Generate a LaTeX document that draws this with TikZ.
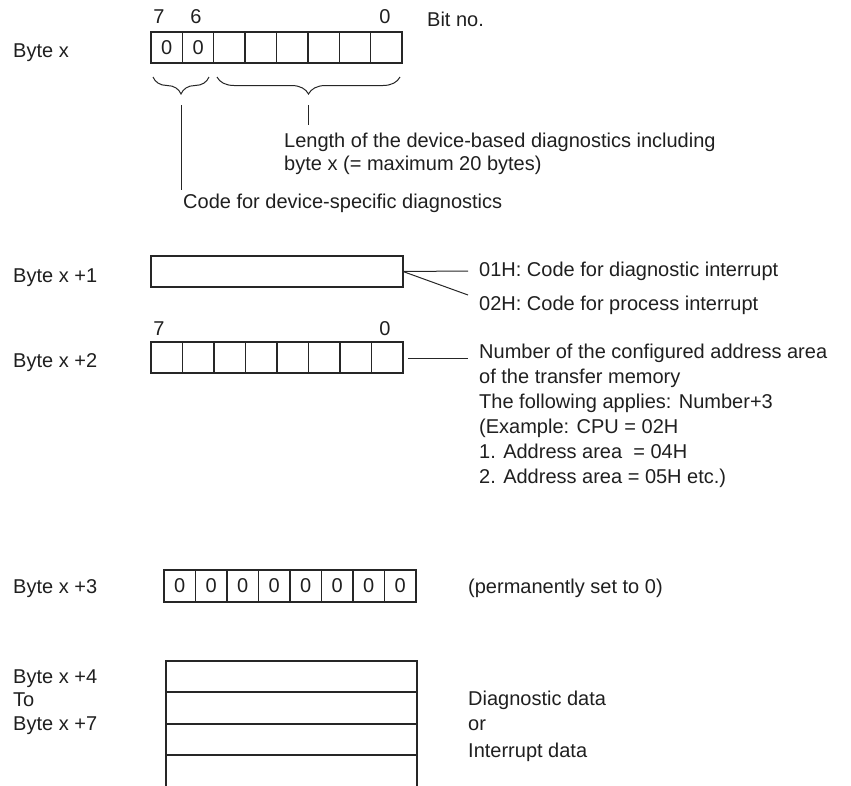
\documentclass[tikz,border=0pt]{standalone}
\usepackage{fontspec}
\setmainfont{Liberation Sans}
\usetikzlibrary{decorations.pathreplacing}
\begin{document}
\begin{tikzpicture}[x=1pt,y=-1pt,
  txt/.style={anchor=base west,inner sep=0pt,font=\fontsize{20}{25}\selectfont,text=black!88},
  bitno/.style={anchor=base,inner sep=0pt,font=\fontsize{20}{25}\selectfont,text=black!88},
  cell/.style={draw=black!85,line width=1.3pt,minimum width=31.4pt,minimum height=31pt,inner sep=0pt,outer sep=0pt,font=\fontsize{20}{25}\selectfont,text=black!88},
  bar/.style={draw=black!85,line width=1.3pt,inner sep=0pt,outer sep=0pt},
  conn/.style={draw=black!85,line width=1pt},
  brc/.style={draw=black!85,line width=1pt,decorate,decoration={brace,mirror,amplitude=17pt}}]
\useasboundingbox (0,0) rectangle (851,785);

% ---------- Byte x ----------
\node[bitno] (b7) at (159,23) {7};
\node[bitno] (b6) at (196,23) {6};
\node[bitno] (b0) at (385,23) {0};
\node[txt] (bitno) at (427,26) {Bit no.};
\node[txt] (lx) at (13,57) {Byte x};
\foreach \i/\t in {0/0,1/0,2/,3/,4/,5/,6/,7/} {
  \node[cell,minimum width=31.375pt] (a\i) at ({151+31.375*(\i+0.5)},47.5) {\t};
}
\coordinate (br1a) at (153,77);
\coordinate (br1b) at (209,77);
\coordinate (br2a) at (217,77);
\coordinate (br2b) at (400,77);
\draw[brc] (br1a) -- (br1b);
\draw[brc] (br2a) -- (br2b);
\coordinate (t1a) at (181,105);
\coordinate (t1b) at (181,190);
\coordinate (t2a) at (308,105);
\coordinate (t2b) at (308,125);
\draw[conn] (t1a) -- (t1b);
\draw[conn] (t2a) -- (t2b);
\node[txt] (len1) at (284,147) {Length of the device-based diagnostics including};
\node[txt] (len2) at (284,170) {byte x (= maximum 20 bytes)};
\node[txt] (code) at (183,208) {Code for device-specific diagnostics};

% ---------- Byte x+1 ----------
\node[txt] (lx1) at (13,282) {Byte x +1};
\node[bar,minimum width=252pt,minimum height=31pt] (bx1) at (277,271.5) {};
\coordinate (c1) at (468,271);
\coordinate (c2) at (468,295);
\draw[conn] (bx1.east) -- (c1);
\draw[conn] (bx1.east) -- (c2);
\node[txt] (i01) at (479,276) {01H: Code for diagnostic interrupt};
\node[txt] (i02) at (479,310) {02H: Code for process interrupt};

% ---------- Byte x+2 ----------
\node[bitno] (c7) at (159,335) {7};
\node[bitno] (c0) at (385,335) {0};
\node[txt] (lx2) at (13,367) {Byte x +2};
\foreach \i in {0,...,7} {
  \node[cell,minimum width=31.5pt] (b\i) at ({151+31.5*(\i+0.5)},357.5) {};
}
\coordinate (d0) at (408,358);
\coordinate (d1) at (468,358);
\draw[conn] (d0) -- (d1);
\node[txt] (n1) at (479,358) {Number of the configured address area};
\node[txt] (n2) at (479,383) {of the transfer memory};
\node[txt] (n3) at (479,408) {The following applies: Number+3};
\node[txt] (n4) at (479,433) {(Example: CPU = 02H};
\node[txt] (n5) at (479,458) {1. Address area~ = 04H};
\node[txt] (n6) at (479,483) {2. Address area = 05H etc.)};

% ---------- Byte x+3 ----------
\node[txt] (lx3) at (13,593) {Byte x +3};
\foreach \i in {0,...,7} {
  \node[cell,minimum width=31.5pt,minimum height=32pt] (e\i) at ({164+31.5*(\i+0.5)},586) {0};
}
\node[txt] (perm) at (468,593) {(permanently set to 0)};

% ---------- Byte x+4 .. x+7 ----------
\node[txt] (lx4) at (13,683) {Byte x +4};
\node[txt] (lto) at (13,706) {To};
\node[txt] (lx7) at (13,730) {Byte x +7};
\node[bar,minimum width=251pt,minimum height=31pt] (r1) at (291.5,676.5) {};
\node[bar,minimum width=251pt,minimum height=32pt] (r2) at (291.5,708) {};
\node[bar,minimum width=251pt,minimum height=31pt] (r3) at (291.5,739.5) {};
\coordinate (ol) at (166,786);
\coordinate (or) at (417,786);
\draw[bar] (r3.south west) -- (ol);
\draw[bar] (r3.south east) -- (or);
\node[txt] (dd) at (468,705) {Diagnostic data};
\node[txt] (dor) at (468,730) {or};
\node[txt] (di) at (468,757) {Interrupt data};
\end{tikzpicture}
\end{document}
